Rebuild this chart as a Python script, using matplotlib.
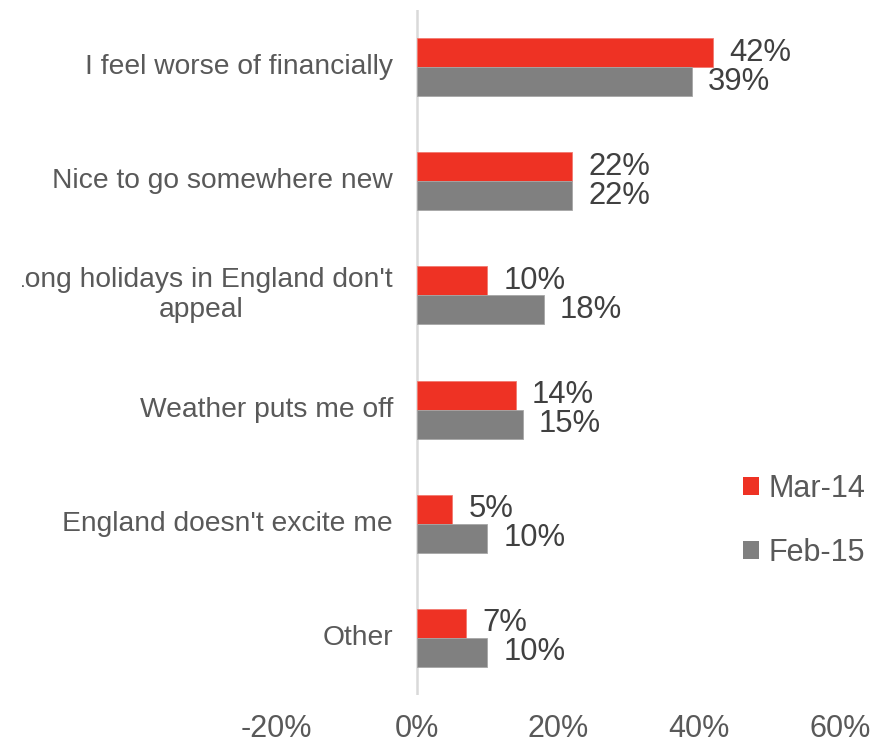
import matplotlib
matplotlib.use("Agg")
import numpy as np
import matplotlib.pyplot as plt
from matplotlib.patches import Patch

plt.rcParams["font.family"] = ["Liberation Sans", "DejaVu Sans"]

# Survey answers, percentages per wave
categories = [
    "I feel worse of financially",
    "Nice to go somewhere new",
    "Long holidays in England don't\nappeal",
    "Weather puts me off",
    "England doesn't excite me",
    "Other",
]
mar14 = [42, 22, 10, 14, 5, 7]
feb15 = [39, 22, 18, 15, 10, 10]
series_names = ["Mar-14", "Feb-15"]
xticks = [-20, 0, 20, 40, 60]

RED = "#EE3224"
GREY = "#808080"
TEXT = "#595959"
VALUE_TEXT = "#404040"

W, H = 887, 747
fig = plt.figure(figsize=(W / 100, H / 100), dpi=100)
left_px = 22
ax = fig.add_axes([left_px / W, (H - 695) / H, (W - left_px) / W, 685 / H])

px_per_pct = 7.05
ax.set_xlim((left_px - 417) / px_per_pct, (W - 417) / px_per_pct)
ax.set_ylim(5.5, -0.5)

y = np.arange(len(categories))
bh = 0.254
b1 = ax.barh(y - bh / 2, mar14, height=bh, color=RED, edgecolor="#f27a70", linewidth=0.6)
b2 = ax.barh(y + bh / 2, feb15, height=bh, color=GREY, edgecolor="#a6a6a6", linewidth=0.6)

for bars in (b1, b2):
    ax.bar_label(bars, labels=[f"{v}%" for v in bars.datavalues], padding=11.5,
                 fontsize=22.3, color=VALUE_TEXT)

# thin vertical axis line at zero
ax.axvline(0, color="#d9d9d9", lw=1.8, zorder=0)

# category labels sit left of the zero line
for i, cat in enumerate(categories):
    ax.annotate(cat, xy=(0, i), xytext=(-24, 0), textcoords="offset pixels",
                ha="right", va="center", multialignment="center", linespacing=1.2,
                fontsize=20.3, color=TEXT, annotation_clip=False, clip_on=True)

ax.set_xticks(xticks)
ax.set_xticklabels([f"{t}%" for t in xticks])
ax.tick_params(axis="x", length=0, pad=14, labelsize=22, labelcolor=TEXT)
ax.set_yticks([])
for s in ax.spines.values():
    s.set_visible(False)

handles = [Patch(facecolor=RED), Patch(facecolor=GREY)]
fig.legend(handles, series_names, loc="center left",
           bbox_to_anchor=(743 / W, (H - 521) / H), frameon=False,
           fontsize=22, labelcolor=TEXT, handlelength=0.52, handleheight=0.52,
           handletextpad=0.3, labelspacing=1.12, borderpad=0, borderaxespad=0)

fig.savefig("out.png", dpi=100, facecolor="white")
